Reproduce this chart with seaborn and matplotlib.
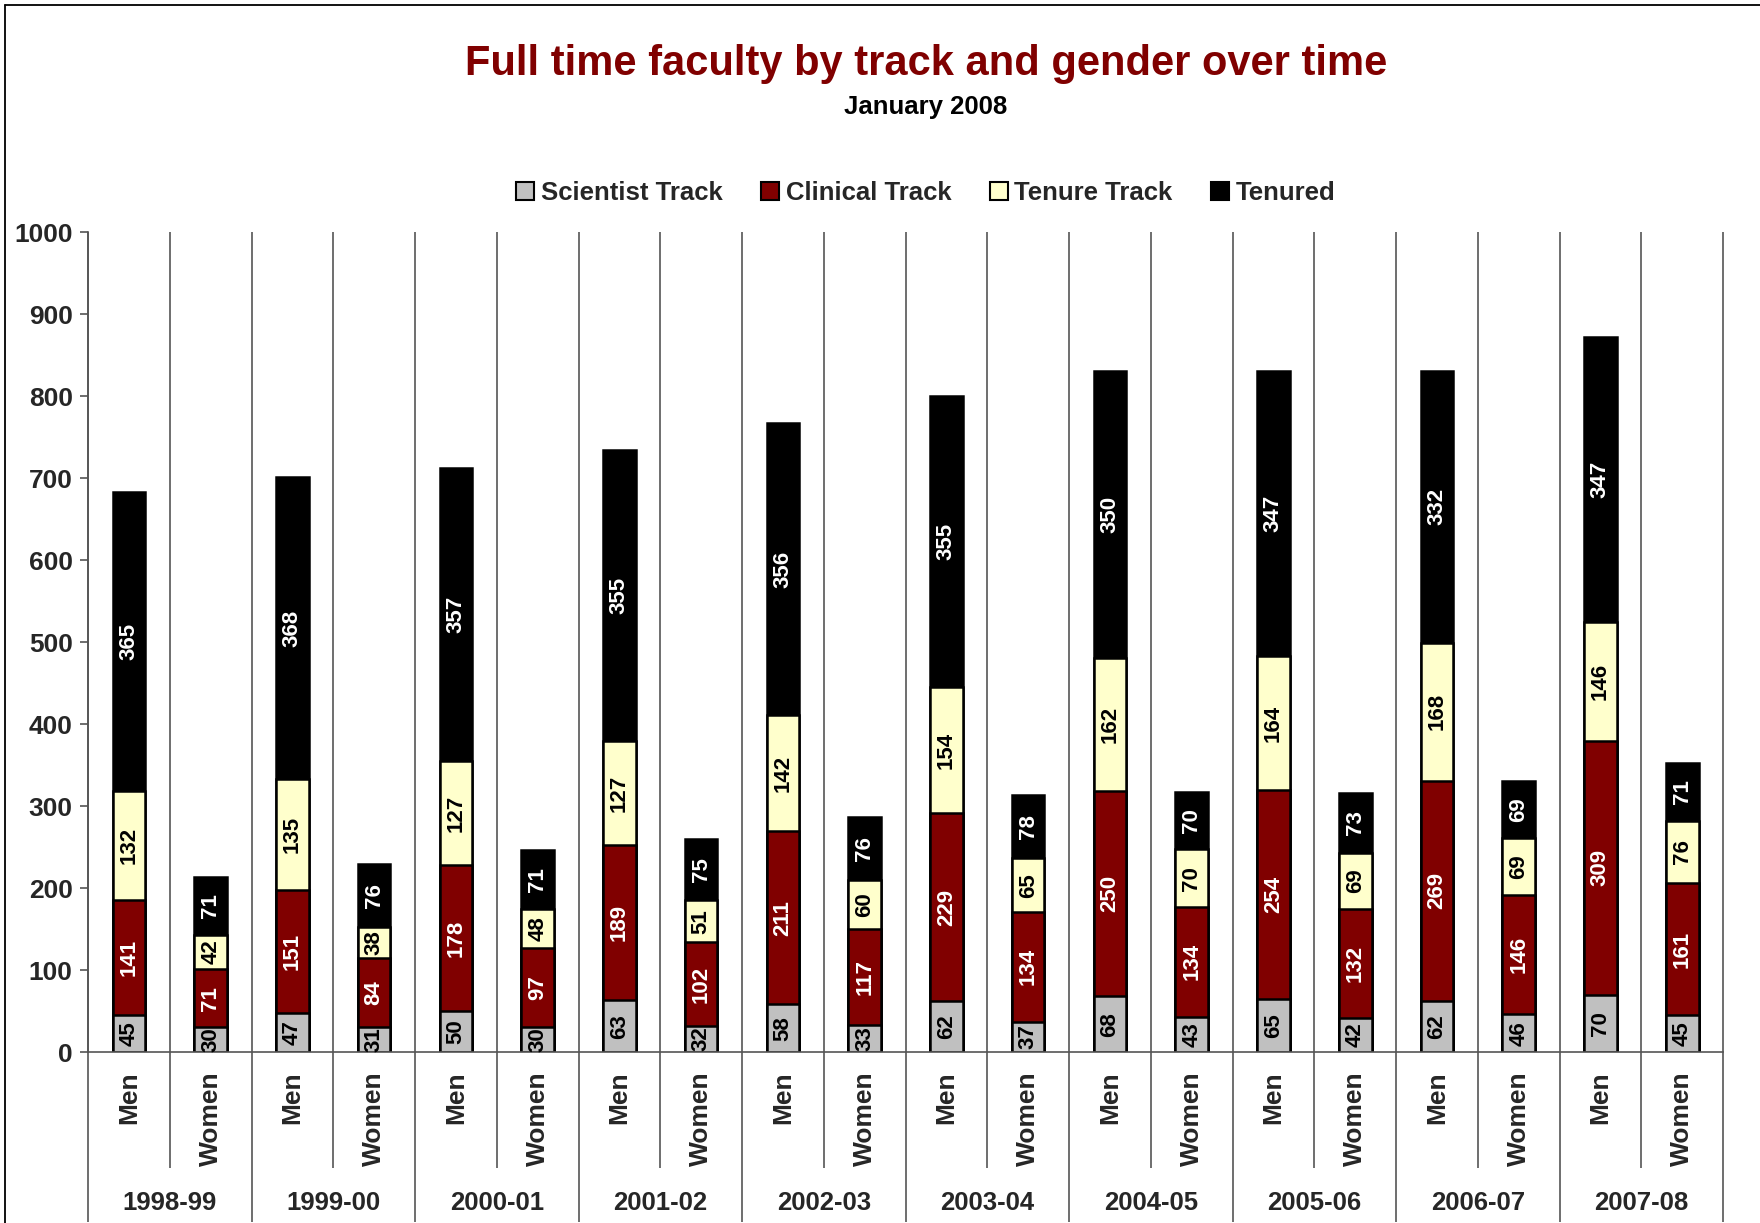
import numpy as np
import matplotlib.pyplot as plt
import seaborn as sns
from matplotlib.patches import Patch
from matplotlib.lines import Line2D

# ============================
# DATOS
# ============================
years = ["1998-99", "1999-00", "2000-01", "2001-02", "2002-03",
         "2003-04", "2004-05", "2005-06", "2006-07", "2007-08"]
genders = ["Men", "Women"]

scientist = [45, 30, 47, 31, 50, 30, 63, 32, 58, 33,
             62, 37, 68, 43, 65, 42, 62, 46, 70, 45]
clinical = [141, 71, 151, 84, 178, 97, 189, 102, 211, 117,
            229, 134, 250, 134, 254, 132, 269, 146, 309, 161]
tenure_track = [132, 42, 135, 38, 127, 48, 127, 51, 142, 60,
                154, 65, 162, 70, 164, 69, 168, 69, 146, 76]
tenured = [365, 71, 368, 76, 357, 71, 355, 75, 356, 76,
           355, 78, 350, 70, 347, 73, 332, 69, 347, 71]

series_names = ["Scientist Track", "Clinical Track", "Tenure Track", "Tenured"]
series_colors = ["#C0C0C0", "#800000", "#FFFFCC", "#000000"]
label_colors = ["black", "white", "black", "white"]

# ============================
# CONFIGURACIÓN GENERAL
# ============================
sns.set_theme(style="white")
plt.rcParams["font.family"] = ["Liberation Sans", "DejaVu Sans"]
plt.rcParams["font.weight"] = "bold"

keys = [f"{y} {g}" for y in years for g in genders]
layers = np.array([scientist, clinical, tenure_track, tenured])
cum = np.cumsum(layers, axis=0)

fig = plt.figure(figsize=(17.6, 12.23), dpi=100)
ax = fig.add_axes([0.05, 0.1398, 0.929, 0.6705])

line_col = "#555555"

# líneas de separación entre categorías
n = len(keys)
for k in range(-1, n):
    b = k + 0.5
    ymin = -0.141 if k % 2 == 0 else -0.207
    ax.vlines(b, ymin, 1, transform=ax.get_xaxis_transform(),
              color=line_col, lw=1.2, clip_on=False, zorder=0)

# barras apiladas (totales acumulados de arriba hacia abajo)
for j in range(3, -1, -1):
    sns.barplot(x=keys, y=cum[j], order=keys, color=series_colors[j],
                saturation=1, width=0.4, edgecolor="black", linewidth=1.8,
                ax=ax, zorder=2)

# etiquetas de valores
for j in range(4):
    for i in range(n):
        v = layers[j][i]
        mid = cum[j][i] - v / 2
        ax.text(i, mid, str(v), rotation=90, ha="center", va="center",
                fontsize=16, fontweight="bold", color=label_colors[j], zorder=5)

ax.set_xlim(-0.5, n - 0.5)
ax.set_ylim(0, 1000)
ax.set_yticks(range(0, 1001, 100))
ax.set_xticks([])
ax.set_xlabel("")
ax.set_ylabel("")
ax.tick_params(axis="y", which="major", left=True, length=6, width=1.2,
               color=line_col, labelsize=19, pad=5)
for lab in ax.get_yticklabels():
    lab.set_fontweight("bold")
for s in ["top", "right"]:
    ax.spines[s].set_visible(False)
ax.spines["left"].set_color(line_col)
ax.spines["bottom"].set_color(line_col)
ax.spines["left"].set_linewidth(1.2)
ax.spines["bottom"].set_linewidth(1.2)

# etiquetas de categorías
xt = ax.get_xaxis_transform()
for i, key in enumerate(keys):
    ax.text(i, -0.024, genders[i % 2], rotation=90, ha="center", va="top",
            fontsize=19, fontweight="bold", transform=xt)
for yi, y in enumerate(years):
    ax.text(2 * yi + 0.5, -0.184, y, ha="center", va="center",
            fontsize=18.5, fontweight="bold", transform=xt)

# títulos
fig.text(0.526, 0.948, "Full time faculty by track and gender over time",
         ha="center", va="center", fontsize=30, fontweight="bold", color="#800000")
fig.text(0.526, 0.9125, "January 2008", ha="center", va="center",
         fontsize=18.5, fontweight="bold", color="black")

handles = [Patch(facecolor=c, edgecolor="black", linewidth=1.5, label=nm)
           for c, nm in zip(series_colors, series_names)]
fig.legend(handles=handles, loc="center", bbox_to_anchor=(0.526, 0.842), ncol=4,
           frameon=False, prop={"weight": "bold", "size": 18.5},
           handlelength=0.7, handleheight=0.7, handletextpad=0.25, columnspacing=1.5)

# marco de la figura
fig.add_artist(Line2D([5 / 1760, 1], [1 - 5 / 1223] * 2, transform=fig.transFigure,
                      color="black", lw=1.3))
fig.add_artist(Line2D([5 / 1760] * 2, [0, 1 - 5 / 1223], transform=fig.transFigure,
                      color="black", lw=1.3))

fig.savefig("out.png", dpi=100)
